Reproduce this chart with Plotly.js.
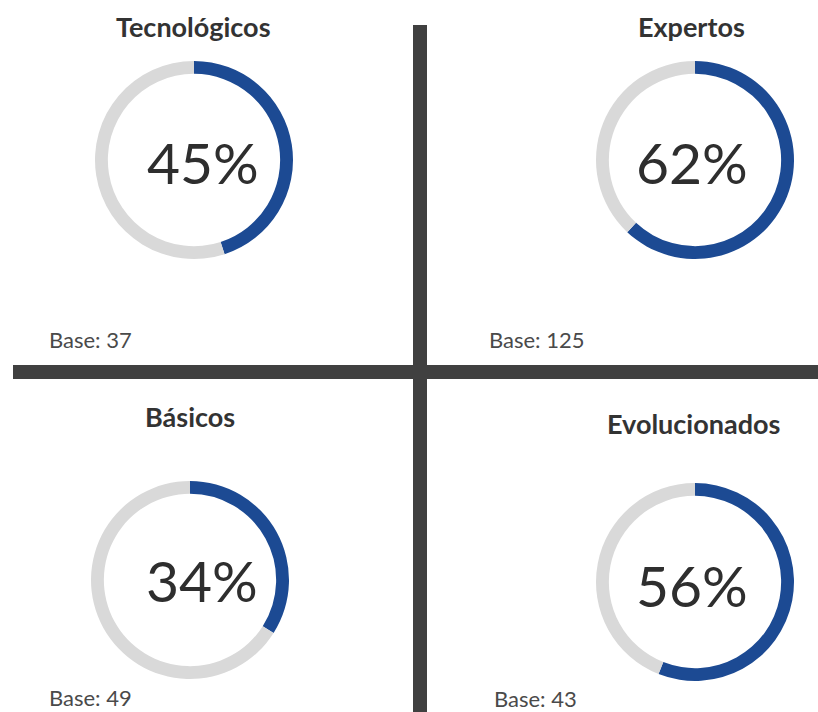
<!DOCTYPE html>
<html>
<head>
<meta charset="utf-8">
<script src="https://cdn.plot.ly/plotly-3.0.1.min.js"></script>
<style>
  html, body { margin: 0; padding: 0; background: #ffffff; }
  #chart { width: 818px; height: 712px; }
</style>
</head>
<body>
<div id="chart"></div>
<script>
// ---- data ----
var segments = ["Tecnológicos", "Expertos", "Básicos", "Evolucionados"];
var percentYes = [45, 62, 34, 56];
var baseSizes = [37, 125, 49, 43];
var sliceLabels = ["Sí", "Resto"];

// ---- layout helpers (pixel geometry of the 818x712 canvas) ----
var W = 818, H = 712;
function px(x) { return x / W; }
function py(y) { return 1 - y / H; }

var ringGeom = [
  {cx: 194, cy: 160, r: 99},
  {cx: 695, cy: 160, r: 99},
  {cx: 190, cy: 580, r: 99},
  {cx: 695, cy: 582, r: 99}
];
var pctPos = [
  {x: 203, y: 162},
  {x: 692, y: 162},
  {x: 202, y: 580},
  {x: 692, y: 585}
];
var titlePos = [
  {x: 193, y: 26},
  {x: 691, y: 26},
  {x: 190, y: 416},
  {x: 693, y: 423}
];
var basePos = [
  {x: 47, y: 339},
  {x: 487, y: 339},
  {x: 47, y: 697},
  {x: 492, y: 698}
];

var BLUE = "#1c4a93";
var GREY = "#d9d9d9";
var FONT = "Lato, 'Open Sans', sans-serif";

var traces = [];
var annotations = [];
for (var i = 0; i < segments.length; i++) {
  var g = ringGeom[i];
  traces.push({
    type: "pie",
    labels: sliceLabels,
    values: [percentYes[i], 100 - percentYes[i]],
    hole: 0.87,
    sort: false,
    direction: "clockwise",
    rotation: 0,
    textinfo: "none",
    hoverinfo: "none",
    showlegend: false,
    marker: {colors: [BLUE, GREY], line: {width: 0}},
    domain: {
      x: [px(g.cx - g.r), px(g.cx + g.r)],
      y: [py(g.cy + g.r), py(g.cy - g.r)]
    }
  });
  annotations.push({
    text: percentYes[i] + "%",
    xref: "paper", yref: "paper",
    x: px(pctPos[i].x), y: py(pctPos[i].y),
    xanchor: "center", yanchor: "middle",
    showarrow: false,
    font: {family: FONT, size: 57, color: "#2e2e2e"}
  });
  annotations.push({
    text: "<b>" + segments[i] + "</b>",
    xref: "paper", yref: "paper",
    x: px(titlePos[i].x), y: py(titlePos[i].y),
    xanchor: "center", yanchor: "middle",
    showarrow: false,
    font: {family: FONT, size: 27, color: "#333333"}
  });
  annotations.push({
    text: "Base: " + baseSizes[i],
    xref: "paper", yref: "paper",
    x: px(basePos[i].x), y: py(basePos[i].y),
    xanchor: "left", yanchor: "middle",
    showarrow: false,
    font: {family: FONT, size: 22, color: "#4a4a4a"}
  });
}

var LINE = "#404040";
var shapes = [
  {type: "rect", xref: "paper", yref: "paper",
   x0: px(13), x1: px(818), y0: py(379), y1: py(365),
   fillcolor: LINE, line: {width: 0}, layer: "below"},
  {type: "rect", xref: "paper", yref: "paper",
   x0: px(413), x1: px(427), y0: py(712), y1: py(25),
   fillcolor: LINE, line: {width: 0}, layer: "below"}
];

var layout = {
  width: W, height: H,
  margin: {l: 0, r: 0, t: 0, b: 0, pad: 0},
  paper_bgcolor: "#ffffff",
  plot_bgcolor: "#ffffff",
  showlegend: false,
  annotations: annotations,
  shapes: shapes
};

Plotly.newPlot("chart", traces, layout, {displayModeBar: false, staticPlot: true});
</script>
</body>
</html>
